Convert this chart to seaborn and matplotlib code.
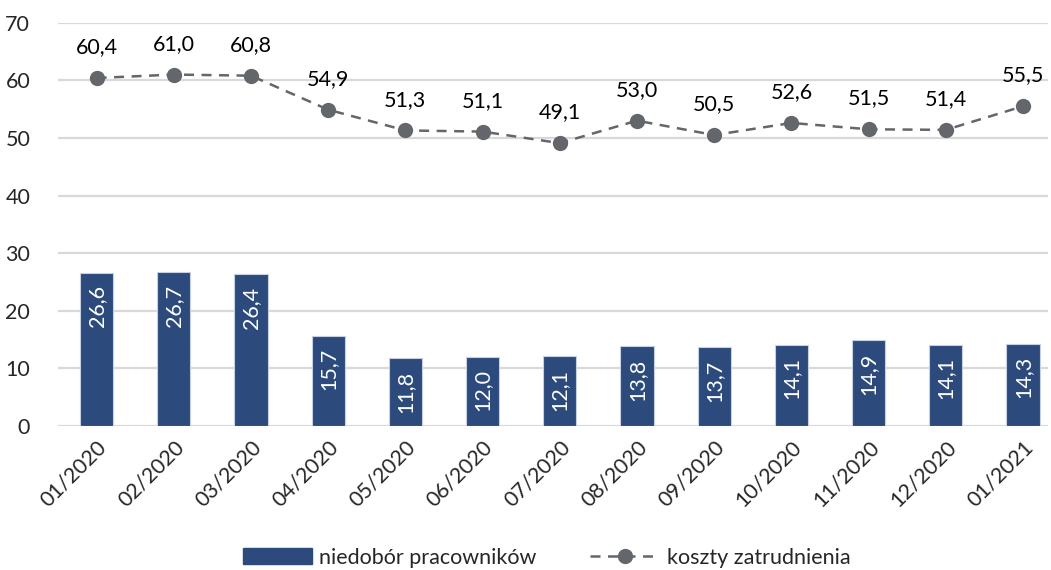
import numpy as np
import pandas as pd
import matplotlib
matplotlib.use("Agg")
import matplotlib.pyplot as plt
import seaborn as sns
from matplotlib.patches import Patch
from matplotlib.lines import Line2D

months = ["01/2020", "02/2020", "03/2020", "04/2020", "05/2020", "06/2020", "07/2020",
          "08/2020", "09/2020", "10/2020", "11/2020", "12/2020", "01/2021"]
niedobor = [26.6, 26.7, 26.4, 15.7, 11.8, 12.0, 12.1, 13.8, 13.7, 14.1, 14.9, 14.1, 14.3]
koszty = [60.4, 61.0, 60.8, 54.9, 51.3, 51.1, 49.1, 53.0, 50.5, 52.6, 51.5, 51.4, 55.5]
yticks = [0, 10, 20, 30, 40, 50, 60, 70]

bar_color = "#2C4A7C"
line_color = "#63666A"
grid_color = "#D9D9D9"
fs = 15.5

sns.set_theme(style="white")
plt.rcParams["font.family"] = ["Lato", "DejaVu Sans"]

def fmt(v):
    return f"{v:.1f}".replace(".", ",")

df = pd.DataFrame({"miesiac": months, "niedobor": niedobor, "koszty": koszty,
                   "pos": np.arange(len(months))})

fig = plt.figure(figsize=(10.51, 5.70), dpi=100)
ax = fig.add_axes([58 / 1051, 1 - 426 / 570, (1048 - 58) / 1051, (426 - 22.7) / 570])

sns.barplot(data=df, x="miesiac", y="niedobor", color=bar_color, saturation=1,
            width=0.43, edgecolor="#C5D0E3", linewidth=0.8, ax=ax, zorder=2)
sns.lineplot(data=df, x="pos", y="koszty", color=line_color, linestyle=(0, (4, 3)),
             linewidth=1.8, marker="o", markersize=11, markeredgewidth=0,
             markerfacecolor=line_color, ax=ax, zorder=3)

for i, v in enumerate(niedobor):
    ax.annotate(fmt(v), (i, v), xytext=(0, -9), textcoords="offset points",
                ha="center", va="top", rotation=90, color="white", fontsize=fs)
for i, v in enumerate(koszty):
    ax.annotate(fmt(v), (i, v), xytext=(0, 15), textcoords="offset points",
                ha="center", va="bottom", color="black", fontsize=fs)

ax.set_ylim(0, 70)
ax.set_xlim(-0.5, (1048 - 58) / 77.2 - 0.5)
ax.set_yticks(yticks)
ax.set_yticklabels([str(t) for t in yticks], fontsize=fs)
ax.set_xticks(range(len(months)))
ax.set_xticklabels(months, rotation=45, ha="right", rotation_mode="anchor", fontsize=fs)
ax.tick_params(axis="both", length=0, pad=8)
ax.tick_params(axis="y", pad=20)
ax.set_xlabel("")
ax.set_ylabel("")
ax.yaxis.grid(True, color=grid_color, linewidth=1.6)
ax.set_axisbelow(True)
for s in ax.spines.values():
    s.set_visible(False)

handles = [Patch(facecolor=bar_color, edgecolor=bar_color),
           Line2D([0], [0], color=line_color, linestyle=(0, (4, 3)), linewidth=1.8,
                  marker="o", markersize=11, markeredgewidth=0)]
fig.legend(handles, ["niedobór pracowników", "koszty zatrudnienia"], loc="lower center",
           bbox_to_anchor=(0.52, -0.03), ncol=2, frameon=False, fontsize=fs,
           handlelength=3.2, handleheight=0.8, columnspacing=2.5, handletextpad=0.35)

fig.savefig("out.png", dpi=100)
